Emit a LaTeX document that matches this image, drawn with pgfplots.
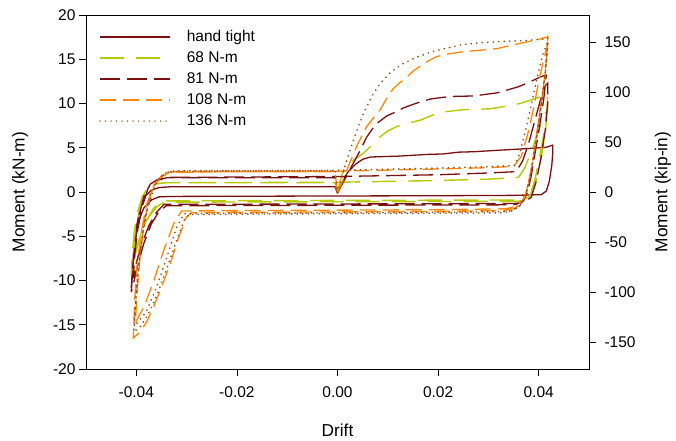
\documentclass[border=0pt]{standalone}
\usepackage{fontspec}
\setmainfont{Liberation Sans}
\usepackage{pgfplots}
\pgfplotsset{compat=1.18}
\definecolor{maroonc}{RGB}{122,16,16}
\definecolor{limec}{RGB}{182,200,0}
\definecolor{orangec}{RGB}{255,135,10}
\definecolor{brownc}{RGB}{150,80,20}
\begin{document}
\begin{tikzpicture}
\useasboundingbox (-86pt,-71pt) rectangle (590pt,369pt);
\begin{axis}[
  at={(0pt,0pt)}, anchor=south west,
  width=503pt, height=354pt, scale only axis,
  xmin=-0.05, xmax=0.05, ymin=-20, ymax=20,
  scaled x ticks=false,
  xtick={-0.04,-0.02,0,0.02,0.04},
  xticklabels={-0.04,-0.02,0.00,0.02,0.04},
  ytick={-20,-15,-10,-5,0,5,10,15,20},
  yticklabels={-20,-15,-10,-5,0,5,10,15,20},
  tick align=outside, xtick pos=left, ytick pos=left,
  major tick length=7pt,
  tick style={black, line width=0.8pt},
  axis line style={line width=0.8pt},
  ticklabel style={font=\fontsize{15.5}{18}\selectfont},
  xticklabel style={yshift=-7pt},
  xlabel={Drift}, ylabel={Moment (kN-m)},
  label style={font=\fontsize{17.3}{20}\selectfont},
  xlabel style={at={(axis description cs:0.5,-0.172)}, anchor=center},
  ylabel style={at={(axis description cs:-0.131,0.5)}, anchor=center},
  legend style={at={(axis description cs:0.026,0.965)}, anchor=north west,
    draw=none, fill=none, font=\fontsize{15.5}{18}\selectfont,
    inner sep=0pt, row sep=2pt, column sep=14pt,
    nodes={inner sep=2pt, text height=11.5pt, text depth=3.5pt}},
  legend cell align=left,
  legend image code/.code={\draw[#1, line width=1.6pt] (0pt,0pt) -- (70pt,0pt);},
]
% hand tight
\addplot[color=maroonc, line width=1.3pt] coordinates {
(0,-0.1) (0.0008,1.0) (0.002,2.2) (0.0035,3.1) (0.005,3.7) (0.0065,3.95) (0.009,4.0) (0.012,4.05) (0.015,4.15) (0.018,4.25) (0.021,4.3) (0.024,4.5) (0.027,4.55) (0.030,4.65) (0.033,4.75) (0.036,4.85) (0.039,4.95) (0.0415,5.05) (0.0428,5.3)
(0.0428,4.5) (0.0426,3.0) (0.0421,1.2) (0.0415,0.1) (0.0405,-0.3) (0.035,-0.38) (0.02,-0.42) (0.0,-0.45) (-0.02,-0.48) (-0.033,-0.5) (-0.0355,-0.55)
(-0.037,-0.9) (-0.0385,-1.8) (-0.0395,-3.2) (-0.0402,-5.5) (-0.0407,-8.5) (-0.041,-10.8)
(-0.0408,-9.0) (-0.0405,-6.5) (-0.0400,-4.0) (-0.0393,-2.0) (-0.0383,-0.5) (-0.037,0.2) (-0.0355,0.5) (-0.033,0.6) (-0.02,0.6) (-0.0005,0.6) (0,-0.1)
};
\addlegendentry{hand tight}
% 68 N-m
\addplot[color=limec, line width=1.4pt, dash pattern=on 24pt off 12pt] coordinates {
(0,-0.1) (0.0005,1.2) (0.0012,2.5) (0.003,3.5) (0.0052,4.4) (0.007,5.4) (0.0085,6.25) (0.01,6.9) (0.0118,7.4) (0.014,7.8) (0.0164,8.1) (0.0185,8.6) (0.0204,9.0) (0.025,9.3) (0.0303,9.4) (0.0335,9.7) (0.0363,10.0) (0.039,10.5) (0.0412,10.9) (0.0418,11.1)
(0.0416,9) (0.041,6.5) (0.0402,4) (0.0393,1.5) (0.0385,0) (0.0375,-0.8) (0.036,-1.05) (0,-1.1) (-0.0345,-1.15)
(-0.036,-1.7) (-0.0375,-2.8) (-0.039,-4.6) (-0.0402,-6.8) (-0.0408,-8.3) (-0.041,-9.3)
(-0.0408,-7.0) (-0.0404,-4.5) (-0.0398,-2.4) (-0.0388,-0.5) (-0.0375,0.6) (-0.036,0.95) (-0.034,1.05) (0,1.1) (0.02,1.3) (0.03,1.45) (0.036,1.65)
(0.0372,2.7) (0.0385,4.5) (0.0397,6.5) (0.0407,8.2) (0.0416,9.2)
(0.0414,7) (0.0408,4.8) (0.04,2.5) (0.0391,0.5) (0.038,-0.6) (0.0365,-0.9) (0,-0.95) (-0.035,-1.0)
(-0.0365,-1.8) (-0.038,-3.2) (-0.0393,-5.2) (-0.0402,-7) (-0.0407,-8)
(-0.0404,-5.8) (-0.0398,-3.5) (-0.039,-1.4) (-0.0378,0.3) (-0.0362,0.9) (-0.034,1.05) (-0.0005,1.05) (0,-0.1)
};
\addlegendentry{68 N-m}
% 81 N-m
\addplot[color=maroonc, line width=1.3pt, dash pattern=on 20pt off 7pt] coordinates {
(0,-0.1) (0.0015,1.5) (0.003,3.1) (0.0045,4.7) (0.0058,6.2) (0.0075,7.6) (0.0098,8.6) (0.0118,9.1) (0.0131,9.5) (0.0155,10.0) (0.0184,10.5) (0.021,10.7) (0.023,10.8) (0.027,10.85) (0.0317,11.2) (0.0336,11.5) (0.036,11.9) (0.0385,12.5) (0.0403,13.0) (0.0415,13.2)
(0.041,10.5) (0.0402,7.5) (0.0393,4.5) (0.0385,1.8) (0.0378,0.0) (0.037,-1.0) (0.0355,-1.4) (0.033,-1.45) (0,-1.5) (-0.034,-1.55)
(-0.0355,-2.2) (-0.037,-3.6) (-0.0385,-5.8) (-0.0397,-8.2) (-0.0405,-10.2) (-0.041,-11.3)
(-0.0407,-8.5) (-0.0402,-5.5) (-0.0395,-2.8) (-0.0385,-0.5) (-0.0372,0.9) (-0.0355,1.5) (-0.0335,1.65) (0,1.75) (0.02,1.95) (0.03,2.15) (0.0355,2.3)
(0.0368,3.5) (0.038,5.5) (0.0392,8) (0.0403,10.3) (0.0413,12.0) (0.0418,12.3)
(0.0418,10) (0.0413,7) (0.0405,4) (0.0395,1.2) (0.0385,-0.6) (0.037,-1.2) (0.035,-1.3) (0,-1.35) (-0.0345,-1.4)
(-0.036,-2.3) (-0.0375,-3.8) (-0.039,-6) (-0.04,-8) (-0.0406,-9.7)
(-0.0403,-7) (-0.0397,-4.2) (-0.0388,-1.6) (-0.0376,0.5) (-0.036,1.3) (-0.034,1.6) (-0.0005,1.6) (0,-0.1)
};
\addlegendentry{81 N-m}
% 108 N-m
\addplot[color=orangec, line width=1.3pt, dash pattern=on 16pt off 7pt] coordinates {
(0,-0.1) (0.0012,1.5) (0.0025,3.4) (0.004,5.4) (0.0058,7.4) (0.0072,8.4) (0.0085,9.3) (0.0098,10.6) (0.0111,11.7) (0.0125,12.4) (0.0138,13.0) (0.0151,13.7) (0.0164,14.2) (0.018,14.8) (0.0197,15.3) (0.022,15.6) (0.025,15.85) (0.028,16.0) (0.0317,16.2) (0.034,16.5) (0.0363,16.8) (0.039,17.1) (0.0416,17.5) (0.0418,17.6)
(0.0414,14) (0.0405,10) (0.0395,6) (0.0385,2.5) (0.0375,0.0) (0.0365,-1.3) (0.035,-1.9) (0.033,-2.1) (0.02,-2.2) (0.0,-2.25) (-0.02,-2.3) (-0.029,-2.35)
(-0.030,-2.8) (-0.0315,-5.0) (-0.0332,-8.0) (-0.035,-10.8) (-0.0366,-13.0) (-0.0378,-14.5) (-0.0392,-15.8) (-0.0406,-16.5)
(-0.0403,-12) (-0.0398,-8) (-0.039,-4.5) (-0.038,-1.5) (-0.0365,0.8) (-0.035,1.8) (-0.0335,2.2) (-0.032,2.3) (-0.02,2.3) (0,2.35) (0.02,2.6) (0.03,2.75) (0.035,2.9)
(0.0365,4.0) (0.0378,6.5) (0.039,9.5) (0.040,12.5) (0.041,15) (0.0418,16.8)
(0.0412,13) (0.0402,9) (0.0392,5) (0.0382,1.5) (0.0372,-0.7) (0.0355,-1.6) (0.0335,-1.9) (0.02,-2.0) (0,-2.05) (-0.02,-2.1) (-0.031,-2.15)
(-0.0325,-3.5) (-0.0345,-6.5) (-0.0365,-10) (-0.0385,-13) (-0.0402,-14.8)
(-0.0398,-11) (-0.0392,-7) (-0.0383,-3) (-0.037,0) (-0.0352,1.6) (-0.0335,2.2) (-0.02,2.3) (-0.0005,2.3) (0,-0.1)
};
\addlegendentry{108 N-m}
% 136 N-m
\addplot[color=brownc, line width=1.9pt, line cap=round, dash pattern=on 0pt off 5.5pt] coordinates {
(0,-0.1) (0.0008,1.5) (0.0015,3.0) (0.0032,5.9) (0.0042,7.5) (0.0052,8.9) (0.0068,10.8) (0.0085,12.3) (0.0105,13.5) (0.013,14.5) (0.016,15.3) (0.0197,16.0) (0.0244,16.6) (0.027,16.8) (0.032,17.0) (0.037,17.1) (0.0416,17.3) (0.0419,17.4)
(0.0415,14.5) (0.0407,10.5) (0.0397,6.5) (0.0387,3) (0.0377,0.2) (0.0367,-1.3) (0.035,-2.1) (0.033,-2.35) (0.02,-2.4) (0,-2.45) (-0.02,-2.5) (-0.0295,-2.55)
(-0.0305,-3.2) (-0.032,-5.5) (-0.034,-8.8) (-0.036,-11.8) (-0.0378,-14.0) (-0.0392,-15.2) (-0.0405,-15.8)
(-0.0402,-12.5) (-0.0396,-8.5) (-0.0388,-5) (-0.0378,-2) (-0.0364,0.6) (-0.035,1.8) (-0.0335,2.3) (-0.032,2.4) (-0.02,2.4) (0,2.45) (0.02,2.7) (0.03,2.85) (0.0352,3.0)
(0.0362,4.3) (0.0374,7) (0.0386,10) (0.0397,13) (0.0408,15.5) (0.0418,17.0)
(0.0413,13.5) (0.0404,9.5) (0.0394,5.5) (0.0384,2) (0.0374,-0.5) (0.036,-1.7) (0.034,-2.2) (0.02,-2.3) (0,-2.35) (-0.02,-2.4) (-0.0305,-2.45)
(-0.032,-4) (-0.034,-7.5) (-0.036,-10.8) (-0.038,-13.5) (-0.0404,-15.2)
(-0.04,-11.5) (-0.0394,-7.5) (-0.0385,-3.5) (-0.0372,-0.2) (-0.0355,1.6) (-0.0338,2.3) (-0.02,2.4) (-0.0005,2.4) (0,-0.1)
};
\addlegendentry{136 N-m}
\end{axis}
\begin{axis}[
  at={(0pt,0pt)}, anchor=south west,
  width=503pt, height=354pt, scale only axis,
  xmin=-0.05, xmax=0.05, ymin=-177, ymax=177,
  axis x line=none, axis y line*=right,
  ytick={-150,-100,-50,0,50,100,150},
  yticklabels={-150,-100,-50,0,50,100,150},
  tick align=outside, major tick length=7pt,
  tick style={black, line width=0.8pt},
  axis line style={line width=0.8pt},
  ticklabel style={font=\fontsize{15.5}{18}\selectfont},
  yticklabel style={xshift=5pt},
  ylabel={Moment (kip-in)},
  label style={font=\fontsize{17.3}{20}\selectfont},
  ylabel style={at={(axis description cs:1.147,0.5)}, anchor=center, rotate=0},
]
\end{axis}
\end{tikzpicture}
\end{document}
